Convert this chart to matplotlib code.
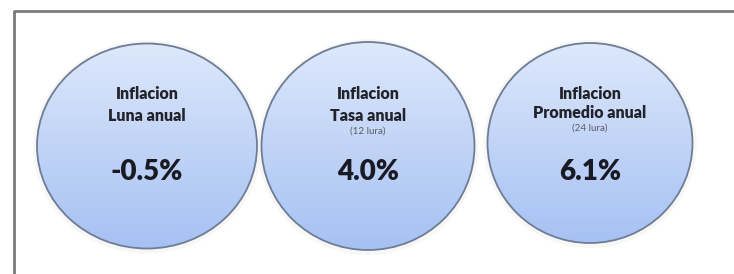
import numpy as np
import matplotlib
matplotlib.use('Agg')
import matplotlib.pyplot as plt
from matplotlib.patches import Ellipse

plt.rcParams['font.family'] = ['Lato', 'DejaVu Sans']

# data
headers = ['Inflacion', 'Inflacion', 'Inflacion']
labels = ['Luna anual', 'Tasa anual', 'Promedio anual']
notes = ['', '(12 lura)', '(24 lura)']
values = [-0.5, 4.0, 6.1]

# bubble layout in pixels (center x, center y, width, height)
centers_x = [147, 368, 590]
centers_y = [146, 146, 143]
widths = [220, 213, 205]
heights = [205, 208, 200]

fig = plt.figure(figsize=(7.34, 2.74), dpi=100)
ax = fig.add_axes([0, 0, 1, 1])
ax.set_xlim(0, 734)
ax.set_ylim(274, 0)
ax.axis('off')

# frame (top and left only)
ax.plot([14, 14, 734], [274, 11, 11], color='#7a7a7a', lw=2, solid_capstyle='butt')

grad = np.linspace(0, 1, 256).reshape(-1, 1)
cmap = matplotlib.colors.LinearSegmentedColormap.from_list('bub', ['#dde8fb', '#a6c1f3'])

for i in range(len(values)):
    cx, cy, w, h = centers_x[i], centers_y[i], widths[i], heights[i]
    # soft glow
    glow = Ellipse((cx, cy + 1), w + 8, h + 8, facecolor='#f3f3f0', edgecolor='none', alpha=0.6, zorder=1)
    ax.add_patch(glow)
    ell = Ellipse((cx, cy), w, h, facecolor='none', edgecolor='#6e7c95', lw=1.3, zorder=3)
    ax.add_patch(ell)
    im = ax.imshow(grad, extent=(cx - w / 2, cx + w / 2, cy + h / 2, cy - h / 2),
                   cmap=cmap, aspect='auto', zorder=2, interpolation='bilinear')
    im.set_clip_path(ell)

    ax.text(cx, 94, headers[i], ha='center', va='center', fontsize=11.5,
            fontweight='heavy', color='#22222a', zorder=4)
    y_lab = 116 if i < 2 else 113
    ax.text(cx, y_lab, labels[i], ha='center', va='center', fontsize=11.5,
            fontweight='heavy', color='#22222a', zorder=4)
    if notes[i]:
        ax.text(cx, 131 if i == 1 else 128, notes[i], ha='center', va='center',
                fontsize=7, color='#5a5a64', zorder=4)
    ax.text(cx, 172, f'{values[i]:.1f}%', ha='center', va='center', fontsize=20,
            fontweight='heavy', color='#1a1a24', zorder=4)

fig.savefig('out.png', dpi=100)
